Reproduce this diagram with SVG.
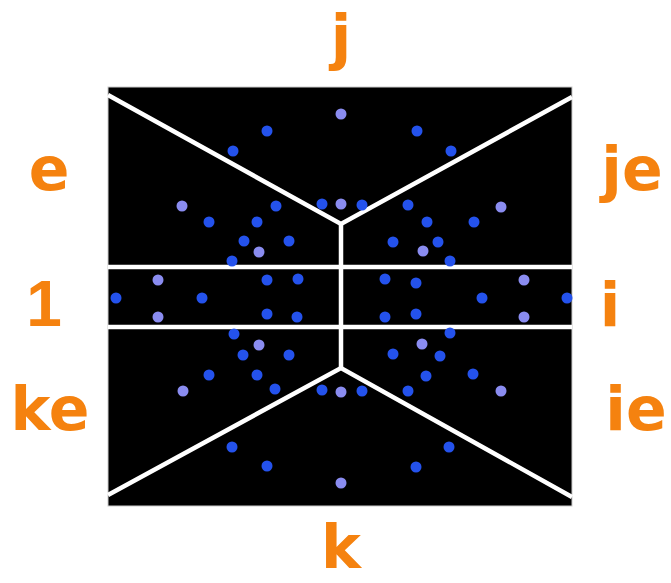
<svg xmlns="http://www.w3.org/2000/svg" width="671" height="583" viewBox="0 0 671 583">
<style>
.lbl{font-family:"DejaVu Sans","Liberation Sans",sans-serif;font-weight:bold;font-size:60px;fill:#f5820f;text-anchor:middle}
.one{font-family:"Liberation Sans",Arial,sans-serif;font-size:64px}
.ln{stroke:#ffffff;stroke-width:4.5;fill:none;stroke-linecap:butt}
.b{fill:#2452ec}
.l{fill:#8a8cf0}
</style>
<rect width="671" height="583" fill="#ffffff"/>
<g id="board">
<rect x="108" y="87" width="464" height="419" fill="#000000" stroke="#cccccc" stroke-width="1"/>
</g>
<g id="connectors">
<polyline class="ln" points="108,95 341,224 572,97"/>
<polyline class="ln" points="108,495 341,368 572,497"/>
<line class="ln" x1="341" y1="224" x2="341" y2="368"/>
<line class="ln" x1="108" y1="267" x2="572" y2="267"/>
<line class="ln" x1="108" y1="327" x2="572" y2="327"/>
</g>
<g id="dots">
<circle class="l" cx="341" cy="114" r="5.5"/>
<circle class="b" cx="267" cy="131" r="5.5"/>
<circle class="b" cx="417" cy="131" r="5.5"/>
<circle class="b" cx="233" cy="151" r="5.5"/>
<circle class="b" cx="451" cy="151" r="5.5"/>
<circle class="l" cx="182" cy="206" r="5.5"/>
<circle class="l" cx="501" cy="207" r="5.5"/>
<circle class="b" cx="209" cy="222" r="5.5"/>
<circle class="b" cx="474" cy="222" r="5.5"/>
<circle class="b" cx="276" cy="206" r="5.5"/>
<circle class="b" cx="322" cy="204" r="5.5"/>
<circle class="l" cx="341" cy="204" r="5.5"/>
<circle class="b" cx="362" cy="205" r="5.5"/>
<circle class="b" cx="408" cy="205" r="5.5"/>
<circle class="b" cx="257" cy="222" r="5.5"/>
<circle class="b" cx="427" cy="222" r="5.5"/>
<circle class="b" cx="244" cy="241" r="5.5"/>
<circle class="b" cx="289" cy="241" r="5.5"/>
<circle class="b" cx="393" cy="242" r="5.5"/>
<circle class="b" cx="438" cy="242" r="5.5"/>
<circle class="l" cx="259" cy="252" r="5.5"/>
<circle class="l" cx="423" cy="251" r="5.5"/>
<circle class="b" cx="232" cy="261" r="5.5"/>
<circle class="b" cx="450" cy="261" r="5.5"/>
<circle class="l" cx="158" cy="280" r="5.5"/>
<circle class="b" cx="116" cy="298" r="5.5"/>
<circle class="b" cx="202" cy="298" r="5.5"/>
<circle class="l" cx="158" cy="317" r="5.5"/>
<circle class="b" cx="267" cy="280" r="5.5"/>
<circle class="b" cx="298" cy="279" r="5.5"/>
<circle class="b" cx="267" cy="314" r="5.5"/>
<circle class="b" cx="297" cy="317" r="5.5"/>
<circle class="b" cx="385" cy="279" r="5.5"/>
<circle class="b" cx="416" cy="283" r="5.5"/>
<circle class="b" cx="482" cy="298" r="5.5"/>
<circle class="l" cx="524" cy="280" r="5.5"/>
<circle class="b" cx="567" cy="298" r="5.5"/>
<circle class="b" cx="385" cy="317" r="5.5"/>
<circle class="b" cx="416" cy="314" r="5.5"/>
<circle class="l" cx="524" cy="317" r="5.5"/>
<circle class="b" cx="234" cy="334" r="5.5"/>
<circle class="l" cx="259" cy="345" r="5.5"/>
<circle class="b" cx="243" cy="355" r="5.5"/>
<circle class="b" cx="289" cy="355" r="5.5"/>
<circle class="b" cx="209" cy="375" r="5.5"/>
<circle class="b" cx="257" cy="375" r="5.5"/>
<circle class="l" cx="183" cy="391" r="5.5"/>
<circle class="b" cx="275" cy="389" r="5.5"/>
<circle class="b" cx="322" cy="390" r="5.5"/>
<circle class="l" cx="341" cy="392" r="5.5"/>
<circle class="b" cx="450" cy="333" r="5.5"/>
<circle class="l" cx="422" cy="344" r="5.5"/>
<circle class="b" cx="393" cy="354" r="5.5"/>
<circle class="b" cx="440" cy="356" r="5.5"/>
<circle class="b" cx="426" cy="376" r="5.5"/>
<circle class="b" cx="473" cy="374" r="5.5"/>
<circle class="b" cx="362" cy="391" r="5.5"/>
<circle class="b" cx="408" cy="391" r="5.5"/>
<circle class="l" cx="501" cy="391" r="5.5"/>
<circle class="b" cx="232" cy="447" r="5.5"/>
<circle class="b" cx="449" cy="447" r="5.5"/>
<circle class="b" cx="267" cy="466" r="5.5"/>
<circle class="b" cx="416" cy="467" r="5.5"/>
<circle class="l" cx="341" cy="483" r="5.5"/>
</g>
<g id="label-j"><text class="lbl" x="341" y="58">j</text></g>
<g id="label-k"><text class="lbl" x="341" y="568">k</text></g>
<g id="label-e"><text class="lbl" x="49" y="190">e</text></g>
<g id="label-je"><text class="lbl" x="632" y="190">je</text></g>
<g id="label-1"><text class="lbl one" x="44" y="326">1</text></g>
<g id="label-i"><text class="lbl" x="610" y="326">i</text></g>
<g id="label-ke"><text class="lbl" x="50" y="430">ke</text></g>
<g id="label-ie"><text class="lbl" x="636" y="430">ie</text></g>
</svg>
